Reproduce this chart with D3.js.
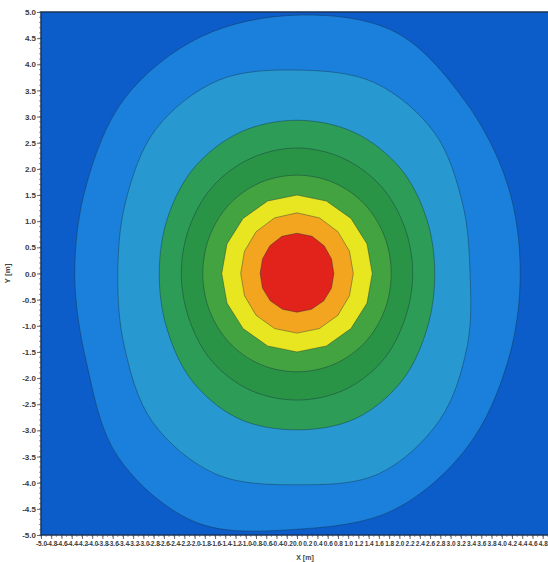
<!DOCTYPE html>
<html>
<head>
<meta charset="utf-8">
<script src="https://cdn.jsdelivr.net/npm/d3@7"></script>
<style>
  html, body { margin: 0; padding: 0; background: #ffffff; }
  svg { display: block; }
</style>
</head>
<body>
<svg id="chart" width="548" height="562"></svg>
<script>
// ---- data ----
// directions (degrees, counter-clockwise from +X) at which each contour radius was read
const angles = [0, 22.5, 45, 67.5, 90, 112.5, 135, 157.5, 180, 202.5, 225, 247.5, 270, 292.5, 315, 337.5];
// contour levels, outermost to innermost
const contourLevels = [1, 2, 3, 4, 5, 6, 7, 8];
// radius (m) of each contour in each direction
const radiusL1 = [4.36, 4.45, 4.65, 5.00, 4.94, 4.90, 4.75, 4.45, 4.34, 4.45, 4.95, 5.15, 4.89, 4.90, 4.70, 4.45];
const radiusL2 = [3.38, 3.50, 3.80, 3.95, 3.89, 4.00, 3.90, 3.62, 3.50, 3.65, 4.00, 4.15, 4.04, 4.15, 3.95, 3.60];
const radiusL3 = [2.69, 2.74, 2.85, 2.92, 2.93, 2.92, 2.85, 2.74, 2.69, 2.75, 2.90, 3.00, 2.99, 3.00, 2.90, 2.75];
const radiusL4 = [2.26, 2.28, 2.34, 2.38, 2.40, 2.38, 2.34, 2.28, 2.26, 2.28, 2.36, 2.41, 2.42, 2.41, 2.36, 2.28];
const radiusL5 = [1.84, 1.85, 1.87, 1.88, 1.88, 1.88, 1.87, 1.85, 1.84, 1.85, 1.87, 1.88, 1.88, 1.88, 1.87, 1.85];
const radiusL6 = [1.47, 1.48, 1.49, 1.50, 1.50, 1.50, 1.49, 1.48, 1.47, 1.48, 1.49, 1.50, 1.50, 1.50, 1.49, 1.48];
const radiusL7 = [1.10, 1.11, 1.13, 1.15, 1.16, 1.15, 1.13, 1.11, 1.10, 1.11, 1.13, 1.14, 1.14, 1.14, 1.13, 1.11];
const radiusL8 = [0.72, 0.73, 0.75, 0.77, 0.77, 0.77, 0.75, 0.73, 0.72, 0.73, 0.74, 0.74, 0.74, 0.74, 0.74, 0.73];
const contourRadii = [radiusL1, radiusL2, radiusL3, radiusL4, radiusL5, radiusL6, radiusL7, radiusL8];
// source centre (m)
const centerX = 0.0;
const centerY = 0.0;
// axis ticks / labels
const xTickValues = [-5.0,-4.8,-4.6,-4.4,-4.2,-4.0,-3.8,-3.6,-3.4,-3.2,-3.0,-2.8,-2.6,-2.4,-2.2,-2.0,-1.8,-1.6,-1.4,-1.2,-1.0,-0.8,-0.6,-0.4,-0.2,0.0,0.2,0.4,0.6,0.8,1.0,1.2,1.4,1.6,1.8,2.0,2.2,2.4,2.6,2.8,3.0,3.2,3.4,3.6,3.8,4.0,4.2,4.4,4.6,4.8,5.0];
const yTickValues = [5.0,4.5,4.0,3.5,3.0,2.5,2.0,1.5,1.0,0.5,0.0,-0.5,-1.0,-1.5,-2.0,-2.5,-3.0,-3.5,-4.0,-4.5,-5.0];
const xTitle = "X [m]";
const yTitle = "Y [m]";

// ---- styles ----
const backgroundColor = "#0c5dc9";
const bandColors = ["#1b80dc", "#2798d0", "#2d9c56", "#2a9446", "#42a340", "#e8e620", "#f4a520", "#e2231b"];

// ---- layout ----
const svg = d3.select("#chart");
const plot = { left: 41, right: 553, top: 12, bottom: 535 };

const x = d3.scaleLinear().domain([-5, 5]).range([plot.left, plot.right]);
const y = d3.scaleLinear().domain([-5, 5]).range([plot.bottom, plot.top]);

svg.append("defs").append("clipPath").attr("id", "plotClip")
  .append("rect")
  .attr("x", plot.left).attr("y", plot.top)
  .attr("width", plot.right - plot.left).attr("height", plot.bottom - plot.top);

const g = svg.append("g").attr("clip-path", "url(#plotClip)");

g.append("rect")
  .attr("x", x(-5)).attr("y", y(5))
  .attr("width", x(5) - x(-5)).attr("height", y(-5) - y(5))
  .attr("fill", backgroundColor);

const smoothLine = d3.line().curve(d3.curveCatmullRomClosed.alpha(0.5));
const polyLine = d3.line().curve(d3.curveLinearClosed);

const bands = contourLevels.map((lvl, i) => ({
  level: lvl,
  pts: angles.map((a, j) => {
    const r = contourRadii[i][j];
    const t = a * Math.PI / 180;
    return [x(centerX + r * Math.cos(t)), y(centerY + r * Math.sin(t))];
  })
}));

g.selectAll("path.band")
  .data(bands)
  .join("path")
  .attr("class", "band")
  .attr("d", d => (d.level <= 5 ? smoothLine(d.pts) : polyLine(d.pts)))
  .attr("fill", (d, i) => bandColors[i])
  .attr("stroke", "rgba(20,45,60,0.45)")
  .attr("stroke-width", 0.9)
  .attr("stroke-linejoin", "round");

// ---- axes ----
const fmt = d => d.toFixed(1);
const axisFont = "'Liberation Sans Narrow', 'Liberation Sans', Arial, sans-serif";

const yAxis = svg.append("g")
  .attr("transform", `translate(${plot.left},0)`)
  .call(d3.axisLeft(y).tickValues(yTickValues).tickFormat(fmt).tickSize(4).tickPadding(1));
yAxis.select(".domain").remove();
yAxis.selectAll(".tick text")
  .style("font-family", "'Liberation Sans', Arial, sans-serif")
  .style("font-size", "8px");

const xAxis = svg.append("g")
  .attr("transform", `translate(0,${plot.bottom})`)
  .call(d3.axisBottom(x).tickValues(xTickValues).tickFormat(fmt).tickSize(4).tickPadding(2));
xAxis.select(".domain").remove();
xAxis.selectAll(".tick text")
  .style("font-family", axisFont)
  .style("font-size", "6.5px");

// minor ticks
const minorTicks = d3.range(-50, 51).map(v => v / 10);
svg.append("g").selectAll("line").data(minorTicks).join("line")
  .attr("x1", plot.left - 2).attr("x2", plot.left)
  .attr("y1", d => y(d)).attr("y2", d => y(d))
  .attr("stroke", "#555").attr("stroke-width", 0.6);
svg.append("g").selectAll("line").data(minorTicks).join("line")
  .attr("y1", plot.bottom).attr("y2", plot.bottom + 2)
  .attr("x1", d => x(d)).attr("x2", d => x(d))
  .attr("stroke", "#555").attr("stroke-width", 0.6);

svg.selectAll(".tick line").attr("stroke", "#444").attr("stroke-width", 0.8);
svg.selectAll(".tick text")
  .attr("fill", "#3a3a3a")
  .style("font-weight", "bold");

// frame
svg.append("rect")
  .attr("x", plot.left).attr("y", plot.top)
  .attr("width", plot.right - plot.left).attr("height", plot.bottom - plot.top)
  .attr("fill", "none").attr("stroke", "#1d3357").attr("stroke-width", 1.5);

// titles
svg.append("text")
  .attr("x", (plot.left + plot.right) / 2 + 8).attr("y", 560)
  .attr("text-anchor", "middle")
  .style("font-family", "'Liberation Sans', Arial, sans-serif")
  .style("font-size", "7px").style("font-weight", "bold").attr("fill", "#444")
  .text(xTitle);

svg.append("text")
  .attr("transform", `translate(10,${y(0)}) rotate(-90)`)
  .attr("text-anchor", "middle")
  .style("font-family", "'Liberation Sans', Arial, sans-serif")
  .style("font-size", "8px").style("font-weight", "bold").attr("fill", "#444")
  .text(yTitle);
</script>
</body>
</html>
